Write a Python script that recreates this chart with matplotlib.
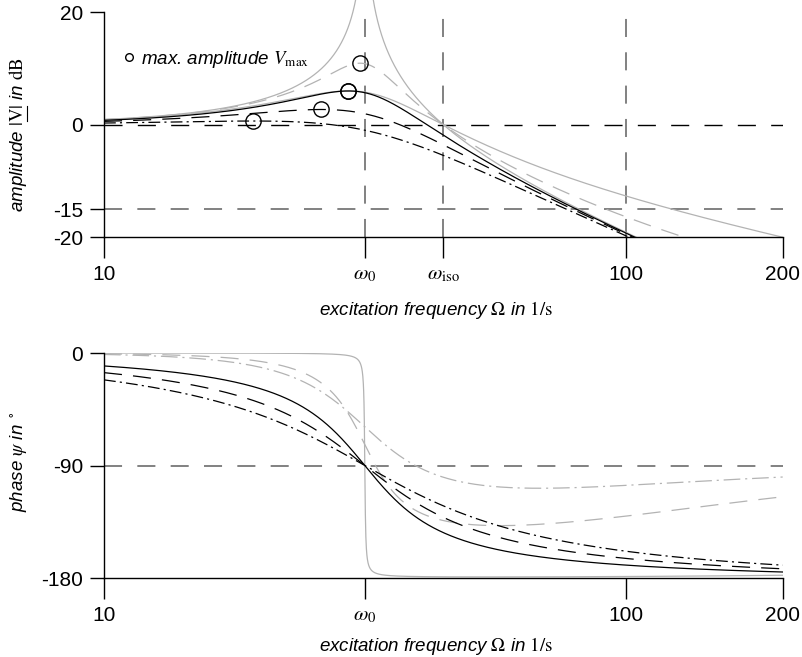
import numpy as np
import matplotlib
matplotlib.use("Agg")
import matplotlib.pyplot as plt
import matplotlib.transforms as mtransforms
from matplotlib.lines import Line2D
from matplotlib.ticker import NullLocator

plt.rcParams['font.family'] = ['Liberation Sans', 'DejaVu Sans']
plt.rcParams['mathtext.fontset'] = 'stix'
plt.rcParams['axes.unicode_minus'] = False
plt.rcParams['lines.scale_dashes'] = False

# values
omega_0 = 31.62                 # natural frequency in 1/s
omega_iso = 44.72               # isolation frequency (0 dB crossing of the grey curves)
D_black = [0.26, 0.40, 0.56]    # damping ratios, black curves: solid, dashed, dash-dot
D_grey = [0.003, 0.15, 0.30]    # damping ratios, grey curves: solid, dashed, dash-dot
x_ticks_amp = [10, omega_0, omega_iso, 100, 200]
x_labels_amp = ['10', r'$\omega_0$', r'$\omega_\mathrm{iso}$', '100', '200']
x_ticks_phase = [10, omega_0, 100, 200]
x_labels_phase = ['10', r'$\omega_0$', '100', '200']
y_ticks_amp = [20, 0, -15, -20]
y_ticks_phase = [0, -90, -180]

Omega = np.geomspace(10, 200, 4000)
eta = Omega / omega_0


def magnification(D, eta):
    return 1 / np.sqrt((1 - eta**2)**2 + (2 * D * eta)**2)


def phase_force(D, eta):
    return -np.degrees(np.arctan2(2 * D * eta, 1 - eta**2))


def transmissibility(D, eta):
    return np.sqrt(1 + (2 * D * eta)**2) * magnification(D, eta)


def phase_base(D, eta):
    return np.degrees(np.arctan(2 * D * eta)) + phase_force(D, eta)


dashed = (0, (13, 8))
dashdot = (0, (8.5, 3, 1.5, 3))
grey_dashdot = (0, (12, 3.5, 1.5, 3.5))
grid_dash = (0, (13, 11))
black_styles = ['-', dashed, dashdot]
grey_amp_styles = ['-', dashed, '-']
grey_phase_styles = ['-', dashed, grey_dashdot]
grey = '#b3b3b3'
gridgrey = '#777777'
label_size = 13.5

fig = plt.figure(figsize=(8.03, 6.57), dpi=100)
ax1 = fig.add_axes([0.1295, 0.6388, 0.8452, 0.3429])
ax2 = fig.add_axes([0.1295, 0.1202, 0.8452, 0.3425])

# --- amplitude ---
for x in [omega_0, omega_iso, 100]:
    ax1.axvline(x, color=gridgrey, lw=1.3, linestyle=grid_dash, zorder=1)
ax1.axhline(-15, color=gridgrey, lw=1.3, linestyle=grid_dash, zorder=1)
ax1.axhline(0, color='k', lw=1.0, linestyle=grid_dash, zorder=1)

circle = None
for D, ls in zip(D_grey, grey_amp_styles):
    dB = 20 * np.log10(transmissibility(D, eta))
    line, = ax1.plot(Omega, dB, color=grey, lw=0.9, linestyle=ls, zorder=2)
    if D == D_grey[0]:
        # undamped curve runs up to the top edge of the figure
        line.set_clip_box(mtransforms.TransformedBbox(
            mtransforms.Bbox([[0, 0], [1, 1.2]]), ax1.transAxes))
    else:
        i = np.argmax(dB)
        ax1.plot(Omega[i], dB[i], 'o', mfc='none', mec='k', ms=11, mew=1.0,
                 zorder=4)

for D, ls in zip(D_black, black_styles):
    dB = 20 * np.log10(magnification(D, eta))
    ax1.plot(Omega, dB, color='k', lw=0.9, linestyle=ls, zorder=3)
    i = np.argmax(dB)
    circle, = ax1.plot(Omega[i], dB[i], 'o', mfc='none', mec='k', ms=11,
                       mew=1.0, zorder=4)

ax1.legend([circle], [r'max. amplitude $V_\mathrm{max}$'], loc='center left',
           bbox_to_anchor=(0.026, 0.79), frameon=False, markerscale=0.5,
           handlelength=0.8, handletextpad=0.25, borderpad=0, borderaxespad=0,
           prop={'style': 'italic', 'size': label_size})

ax1.set_ylim(-20, 20)
ax1.set_yticks(y_ticks_amp)
ax1.set_yticklabels([str(v) for v in y_ticks_amp])
amp_pre = r'amplitude $|$'
amp_V = r'$\mathrm{V}$'
ax1.set_ylabel(r'amplitude $|\mathrm{V}|$ in $\mathrm{dB}$',
               fontstyle='italic', fontsize=label_size)
ax1.yaxis.set_label_coords(-0.11, 0.455)

# --- phase ---
ax2.axhline(-90, color=gridgrey, lw=1.3, linestyle=grid_dash, zorder=1)
for D, ls in zip(D_grey, grey_phase_styles):
    ax2.plot(Omega, phase_base(D, eta), color=grey, lw=0.9, linestyle=ls,
             zorder=2)
for D, ls in zip(D_black, black_styles):
    ax2.plot(Omega, phase_force(D, eta), color='k', lw=0.9, linestyle=ls,
             zorder=3)

ax2.set_ylim(-180, 0)
ax2.set_yticks(y_ticks_phase)
ax2.set_yticklabels([str(v) for v in y_ticks_phase])
ax2.set_ylabel(r'phase $\psi$ in $^\circ$', fontstyle='italic',
               fontsize=label_size)
ax2.yaxis.set_label_coords(-0.11, 0.517)

for ax, ticks, labels in [(ax1, x_ticks_amp, x_labels_amp),
                          (ax2, x_ticks_phase, x_labels_phase)]:
    ax.set_xscale('log')
    ax.set_xlim(10, 200)
    ax.set_xticks(ticks)
    ax.set_xticklabels(labels)
    ax.xaxis.set_minor_locator(NullLocator())
    ax.spines['top'].set_visible(False)
    ax.spines['right'].set_visible(False)
    ax.spines['left'].set_linewidth(1.0)
    ax.spines['bottom'].set_linewidth(1.0)
    ax.tick_params(axis='x', direction='out', length=15, width=1.0, pad=5,
                   labelsize=15)
    ax.tick_params(axis='y', direction='out', length=10, width=1.0, pad=5,
                   labelsize=15)
    ax.set_xlabel(r'excitation frequency $\Omega$ in $\mathrm{1/s}$',
                  fontstyle='italic', fontsize=label_size)

ax1.xaxis.set_label_coords(0.49, -0.275)
ax2.xaxis.set_label_coords(0.49, -0.255)

# underline under V in the amplitude label (mathtext has no \underline)
fig.canvas.draw()
renderer = fig.canvas.get_renderer()


def text_width(s):
    t = fig.text(0, 0, s, fontstyle='italic', fontsize=label_size)
    w = t.get_window_extent(renderer).width
    t.remove()
    return w


bb = ax1.yaxis.label.get_window_extent(renderer)
y_start = bb.y0 + text_width(amp_pre)
y_end = y_start + text_width(amp_V)
x_line = bb.x1 - 2.0
to_fig = fig.transFigure.inverted()
(fx0, fy0), (fx1, fy1) = to_fig.transform([(x_line, y_start), (x_line, y_end)])
fig.add_artist(Line2D([fx0, fx1], [fy0, fy1], color='k', lw=0.8,
                      transform=fig.transFigure))

fig.savefig('out.png', dpi=100)
